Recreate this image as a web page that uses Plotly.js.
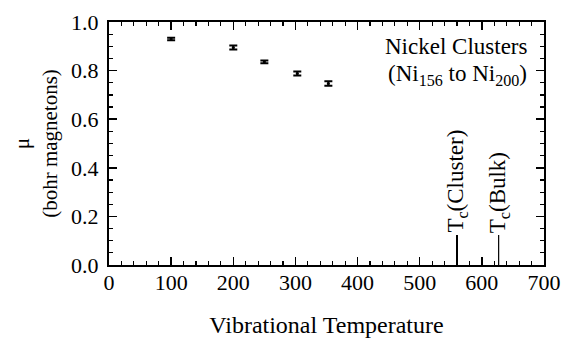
<!DOCTYPE html>
<html>
<head>
<meta charset="utf-8">
<script src="https://cdn.plot.ly/plotly-3.0.1.min.js"></script>
<style>html,body{margin:0;padding:0;background:#fff;}#chart{width:570px;height:343px;}</style>
</head>
<body>
<div id="chart"></div>
<script>
// Data
const temperature = [100, 200, 250, 303, 353];
const moment = [0.930, 0.895, 0.836, 0.788, 0.747];
const momentErr = [0.005, 0.008, 0.006, 0.008, 0.009];

const tcNames = ["T<sub>c</sub>(Cluster)", "T<sub>c</sub>(Bulk)"];
const tcTemps = [560, 627];
const tcMarkerTop = 0.123;
const tcWidths = [2, 1.2];

const xTicks = [0, 100, 200, 300, 400, 500, 600, 700];
const yTicks = [0.0, 0.2, 0.4, 0.6, 0.8, 1.0];

const FONT = 'Times New Roman, Liberation Serif, Times, serif';

const traces = [{
  type: 'scatter', mode: 'markers',
  x: temperature, y: moment,
  marker: {size: 3, color: '#000'},
  error_y: {type: 'data', array: momentErr, visible: true, color: '#000', thickness: 2, width: 4},
  showlegend: false, hoverinfo: 'skip'
}];
tcTemps.forEach((t, i) => {
  traces.push({
    type: 'scatter', mode: 'lines',
    x: [t, t], y: [0, tcMarkerTop],
    line: {color: '#000', width: tcWidths[i]},
    showlegend: false, hoverinfo: 'skip'
  });
});

const annotations = [
  {text: 'Nickel Clusters', x: 529, xref: 'paper', xanchor: 'right', y: 47, yref: 'paper', yanchor: 'middle', showarrow: false, font: {family: FONT, size: 23, color: '#000'}},
  {text: '(Ni<sub>156</sub> to Ni<sub>200</sub>)', x: 529, xref: 'paper', xanchor: 'right', y: 75, yref: 'paper', yanchor: 'middle', showarrow: false, font: {family: FONT, size: 23, color: '#000'}}
];
// convert pixel placement of the note into paper coords
annotations.forEach(a => { a.x = (a.x - 109) / (570 - 109 - 26); a.y = 1 - (a.y - 22) / (343 - 22 - 78); });
tcTemps.forEach((t, i) => {
  annotations.push({
    text: tcNames[i], x: t, y: tcMarkerTop, xref: 'x', yref: 'y',
    xanchor: 'center', yanchor: 'bottom', textangle: -90, yshift: 1,
    showarrow: false, borderpad: 0,
    font: {family: FONT, size: 23, color: '#000'}
  });
});

const layout = {
  width: 570, height: 343,
  margin: {l: 109, r: 26, t: 22, b: 78},
  paper_bgcolor: '#fff', plot_bgcolor: '#fff',
  font: {family: FONT, size: 22, color: '#000'},
  showlegend: false,
  xaxis: {
    range: [0, 700], tickvals: xTicks, ticktext: xTicks.map(String),
    ticks: 'inside', ticklen: 8, tickwidth: 1.5, tickcolor: '#000',
    minor: {dtick: 20, ticks: 'inside', ticklen: 4, tickwidth: 1.2, tickcolor: '#000', showgrid: false},
    showline: true, linecolor: '#000', linewidth: 2, mirror: 'allticks',
    showgrid: false, zeroline: false,
    tickfont: {family: FONT, size: 22, color: '#000'},
    ticklabelstandoff: -3,
    title: {text: 'Vibrational Temperature', font: {family: FONT, size: 24, color: '#000'}, standoff: 22}
  },
  yaxis: {
    range: [0, 1.0], tickvals: yTicks, ticktext: yTicks.map(v => v.toFixed(1)),
    ticks: 'inside', ticklen: 8, tickwidth: 1.5, tickcolor: '#000',
    minor: {dtick: 0.05, ticks: 'inside', ticklen: 4, tickwidth: 1.2, tickcolor: '#000', showgrid: false},
    showline: true, linecolor: '#000', linewidth: 2, mirror: 'allticks',
    showgrid: false, zeroline: false,
    tickfont: {family: FONT, size: 22, color: '#000'},
    ticklabelstandoff: 4,
    title: {text: 'μ<br>(bohr magnetons)', font: {family: FONT, size: 21, color: '#000'}, standoff: 8}
  },
  annotations: annotations
};

Plotly.newPlot('chart', traces, layout, {staticPlot: true, displayModeBar: false});
</script>
</body>
</html>
